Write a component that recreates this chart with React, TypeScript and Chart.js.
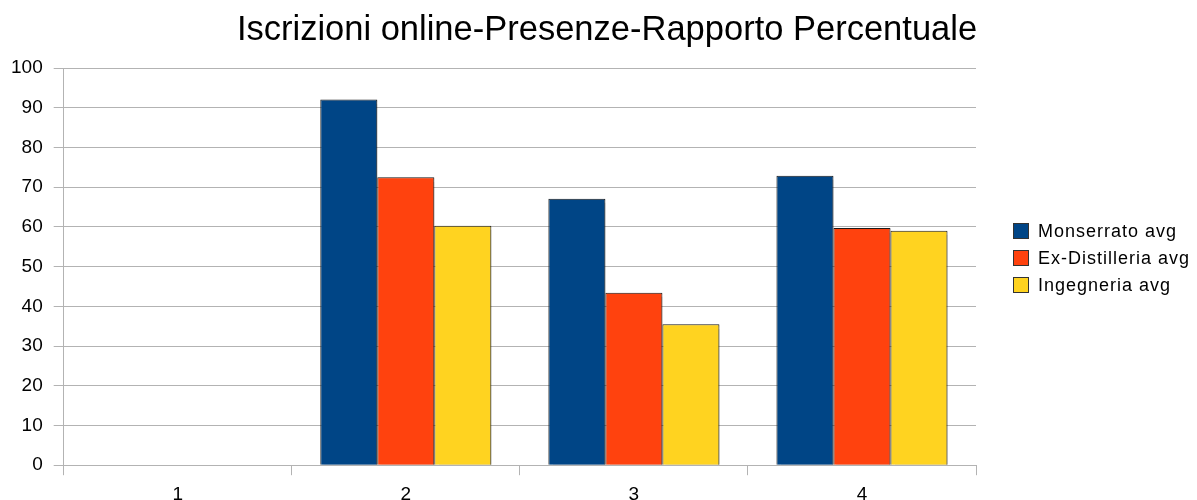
import React, { useEffect, useRef } from "react";
import { Chart, registerables } from "chart.js";

Chart.register(...registerables);

const titleText = "Iscrizioni online-Presenze-Rapporto Percentuale";
const categories = ["1", "2", "3", "4"];
const seriesNames = ["Monserrato avg", "Ex-Distilleria avg", "Ingegneria avg"];
const monserrato = [null, 92.1, 67.1, 72.9];
const exDistilleria = [null, 72.5, 43.4, 59.7];
const ingegneria = [null, 60.3, 35.5, 59.0];
const seriesColors = ["#004586", "#ff420e", "#ffd320"];
const yMin = 0;
const yMax = 100;
const yStep = 10;

const FONT = "'Liberation Sans', Arial, sans-serif";
const GRID = "#b3b3b3";

const shadowPlugin = {
  id: "barShadow",
  beforeDatasetsDraw(chart: any) {
    const ctx = chart.ctx;
    ctx.save();
    ctx.shadowColor = "rgba(0,0,0,0.22)";
    ctx.shadowOffsetX = 2;
    ctx.shadowOffsetY = 1;
    ctx.shadowBlur = 1;
  },
  afterDatasetsDraw(chart: any) {
    chart.ctx.restore();
  },
};

const titlePlugin = {
  id: "customTitle",
  afterDraw(chart: any) {
    const ctx = chart.ctx;
    ctx.save();
    ctx.font = `34.5px ${FONT}`;
    ctx.fillStyle = "#000000";
    ctx.textAlign = "center";
    ctx.textBaseline = "alphabetic";
    ctx.fillText(titleText, 607, 39.5);
    ctx.restore();
  },
};

const legendPlugin = {
  id: "sideLegend",
  afterDraw(chart: any) {
    const ctx = chart.ctx;
    const ds = chart.data.datasets;
    const x = chart.chartArea.right + 37;
    const spacing = 27;
    const centerY = 258;
    const startY = centerY - ((ds.length - 1) * spacing) / 2;
    ctx.save();
    ctx.font = `18px ${FONT}`;
    (ctx as any).letterSpacing = "1px";
    ctx.textBaseline = "middle";
    ctx.textAlign = "left";
    ds.forEach((d: any, i: number) => {
      const cy = startY + i * spacing;
      ctx.fillStyle = d.backgroundColor;
      ctx.fillRect(x, cy - 8, 16, 16);
      ctx.strokeStyle = "#333333";
      ctx.lineWidth = 1;
      ctx.strokeRect(x + 0.5, cy - 7.5, 15, 15);
      ctx.fillStyle = "#000000";
      ctx.fillText(d.label, x + 25, cy + 1);
    });
    ctx.restore();
  },
};

export default function App() {
  const ref = useRef<HTMLCanvasElement | null>(null);

  useEffect(() => {
    document.body.style.margin = "0";
    const canvas = ref.current;
    if (!canvas) return;
    const data = [monserrato, exDistilleria, ingegneria];
    const chart = new Chart(canvas, {
      type: "bar",
      data: {
        labels: categories,
        datasets: seriesNames.map((name, i) => ({
          label: name,
          data: data[i] as any,
          backgroundColor: seriesColors[i],
          borderColor: "#1a1a1a",
          borderWidth: 1,
          categoryPercentage: 0.75,
          barPercentage: 1,
        })),
      },
      options: {
        responsive: false,
        animation: false,
        maintainAspectRatio: false,
        layout: { padding: { left: 0, right: 221, top: 68, bottom: 0 } },
        plugins: {
          legend: { display: false },
          tooltip: { enabled: false },
          title: { display: false },
        },
        scales: {
          x: {
            grid: {
              offset: true,
              color: (c: any) => (c.index === 4 ? GRID : "rgba(0,0,0,0)"),
              tickColor: GRID,
              tickLength: 10,
              lineWidth: 1,
            },
            border: { display: true, color: GRID },
            ticks: {
              color: "#000000",
              font: { family: FONT, size: 19 },
              padding: 8,
            },
          },
          y: {
            min: yMin,
            max: yMax,
            grid: { color: GRID, tickColor: GRID, tickLength: 10 },
            border: { display: true, color: GRID },
            ticks: {
              stepSize: yStep,
              color: "#000000",
              font: { family: FONT, size: 19 },
              padding: 11,
            },
          },
        },
      },
      plugins: [shadowPlugin, titlePlugin, legendPlugin],
    });
    return () => chart.destroy();
  }, []);

  return (
    <div style={{ width: 1197, height: 500, overflow: "hidden" }}>
      <canvas ref={ref} width={1197} height={514} style={{ display: "block" }} />
    </div>
  );
}
